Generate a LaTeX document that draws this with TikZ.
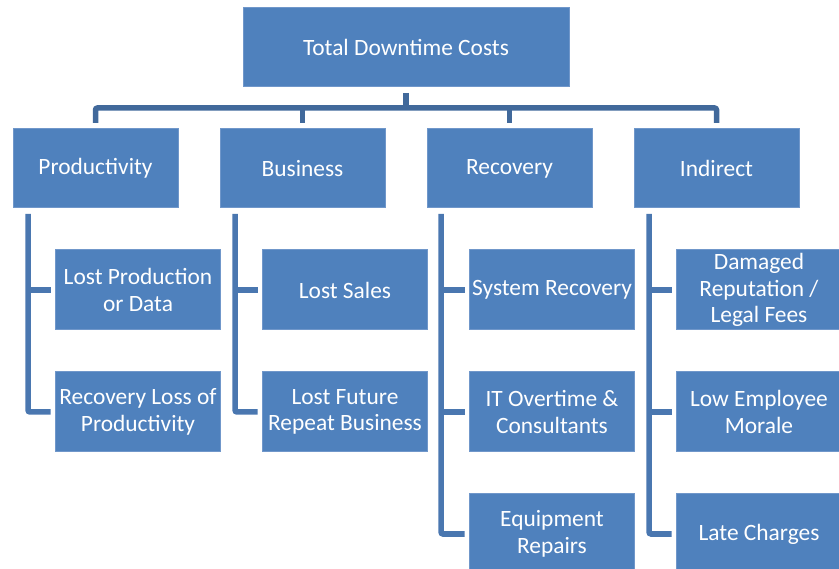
\documentclass[tikz,border=0pt]{standalone}
\usepackage{fontspec}
\setmainfont{Carlito}
\usetikzlibrary{positioning}
\definecolor{boxblue}{HTML}{4F81BD}
\definecolor{boxedge}{HTML}{7097CA}
\definecolor{busblue}{HTML}{41699B}
\definecolor{linkblue}{HTML}{4A77B0}
\tikzstyle{block} = [rectangle, draw=boxedge, line width=1pt, fill=boxblue,
    text=white, align=center, minimum width=165pt, minimum height=80pt,
    inner sep=0pt, outer sep=0pt, font=\fontsize{23.4}{26.5}\selectfont]
\tikzstyle{topblock} = [block, minimum width=326pt, minimum height=79pt]
\tikzstyle{bus} = [busblue, line width=5.5pt, rounded corners=2pt]
\tikzstyle{branch} = [linkblue, line width=5.5pt, rounded corners=2pt]

\begin{document}
\begin{tikzpicture}[x=1pt, y=-1pt]
    \clip (0,0) rectangle (839,569);
    % Place nodes
    \node [topblock] (total) at (406,47.5) {Total Downtime Costs};
    \node [block, minimum height=79pt] (prod) at (95.5,168.5) {Productivity};
    \node [block, minimum height=79pt, right=42pt of prod] (biz) {Business};
    \node [block, minimum height=79pt, right=42pt of biz] (rec) {Recovery};
    \node [block, minimum height=79pt, right=42pt of rec] (ind) {Indirect};

    \node [block, below=42pt of prod, xshift=42.5pt] (lostprod) {Lost Production\\or Data};
    \node [block, below=42pt of lostprod] (recloss) {Recovery Loss of\\Productivity};
    \node [block, below=42pt of biz, xshift=42.5pt] (lostsales) {Lost Sales};
    \node [block, below=42pt of lostsales] (lostfuture) {Lost Future\\Repeat Business};
    \node [block, below=42pt of rec, xshift=42.5pt] (sysrec) {System Recovery};
    \node [block, below=42pt of sysrec] (itover) {IT Overtime \&\\Consultants};
    \node [block, below=42pt of itover] (equip) {Equipment\\Repairs};
    \node [block, below=42pt of ind, xshift=42.5pt] (damaged) {Damaged\\Reputation /\\Legal Fees};
    \node [block, below=42pt of damaged] (morale) {Low Employee\\Morale};
    \node [block, below=42pt of morale] (late) {Late Charges};

    % Draw edges
    \draw [bus] ([yshift=-6pt]total.south) -- ([yshift=-21pt]total.south);
    \draw [bus] ([yshift=6pt]prod.north) |- ([yshift=21pt]biz.north) -| ([yshift=6pt]ind.north);
    \draw [bus] ([yshift=6pt]biz.north) -- ([yshift=22pt]biz.north);
    \draw [bus] ([yshift=6pt]rec.north) -- ([yshift=22pt]rec.north);

    \draw [branch] ([xshift=15pt, yshift=-6pt]prod.south west) |- ([xshift=-5pt]recloss.west);
    \draw [branch] ([xshift=15pt]prod.south west |- lostprod.west) -- ([xshift=-5pt]lostprod.west);

    \draw [branch] ([xshift=15pt, yshift=-6pt]biz.south west) |- ([xshift=-5pt]lostfuture.west);
    \draw [branch] ([xshift=15pt]biz.south west |- lostsales.west) -- ([xshift=-5pt]lostsales.west);

    \draw [branch] ([xshift=14pt, yshift=-6pt]rec.south west) |- ([xshift=-5pt]equip.west);
    \draw [branch] ([xshift=14pt]rec.south west |- sysrec.west) -- ([xshift=-5pt]sysrec.west);
    \draw [branch] ([xshift=14pt]rec.south west |- itover.west) -- ([xshift=-5pt]itover.west);

    \draw [branch] ([xshift=15pt, yshift=-6pt]ind.south west) |- ([xshift=-5pt]late.west);
    \draw [branch] ([xshift=15pt]ind.south west |- damaged.west) -- ([xshift=-5pt]damaged.west);
    \draw [branch] ([xshift=15pt]ind.south west |- morale.west) -- ([xshift=-5pt]morale.west);
\end{tikzpicture}
\end{document}
